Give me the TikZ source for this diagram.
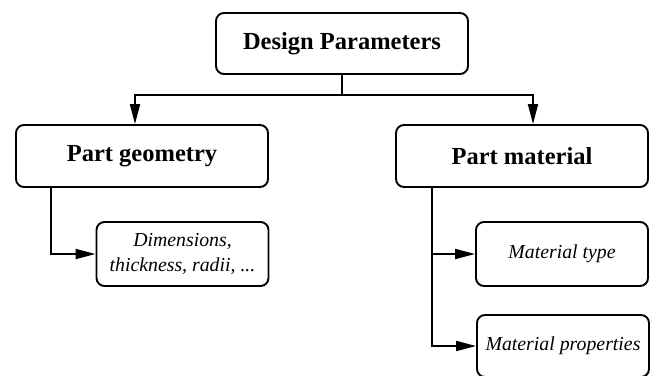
\documentclass[tikz,border=0pt]{standalone}
\usepackage{fontspec}
\setmainfont{Liberation Serif}
\usetikzlibrary{arrows.meta}

\begin{document}
\begin{tikzpicture}[x=1pt,y=-1pt,line width=1.9pt,
    every node/.style={draw,rounded corners=8pt,align=center,inner sep=0pt},
    mainbox/.style={minimum width=252pt,minimum height=62pt,font=\fontsize{24.5}{28}\selectfont\bfseries},
    leafbox/.style={minimum width=172pt,minimum height=64pt,font=\fontsize{19.8}{25}\selectfont\itshape},
    arr/.style={-{Triangle[length=20pt,width=10pt]}}]
    \useasboundingbox (0,0) rectangle (650,375);
    % boxes
    \node[mainbox,minimum height=61pt] (design) at (342,43.5) {Design Parameters};
    \node[mainbox] (geometry) at (142,156) {Part geometry};
    \node[mainbox] (material) at (522,156) {Part material};
    \node[leafbox] (dims) at (182.5,254) {Dimensions,\\thickness, radii, ...};
    \node[leafbox] (mtype) at (562,254) {Material type};
    \node[leafbox,minimum height=62pt] (mprops) at (563,346) {Material properties};
    % connectors
    \coordinate (jl) at (135,95);
    \coordinate (jr) at (533,95);
    \draw[arr] (design.south) |- (jl) -- (jl |- geometry.north);
    \draw[arr] (design.south) |- (jr) -- (jr |- material.north);
    \draw[arr] ([xshift=-91pt]geometry.south) |- (dims.west);
    \draw[arr] ([xshift=-90pt]material.south) |- (mtype.west);
    \draw[arr] ([xshift=-90pt]material.south) |- (mprops.west);
\end{tikzpicture}
\end{document}
